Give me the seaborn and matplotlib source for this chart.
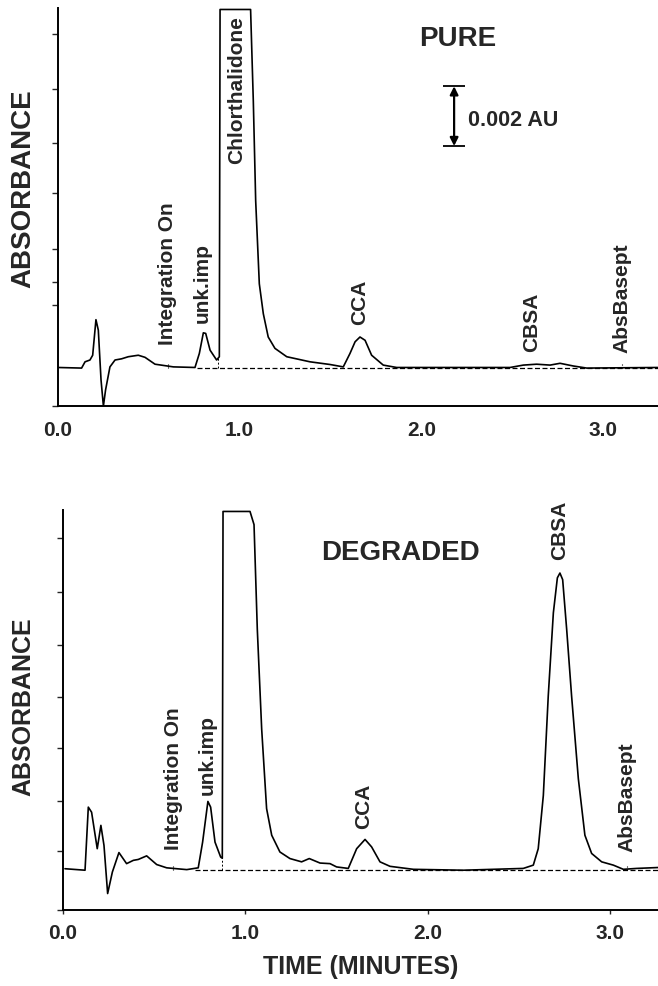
import matplotlib
matplotlib.use('Agg')
import matplotlib.pyplot as plt
import seaborn as sns

# chromatogram traces: time in minutes, absorbance in mAU above the integration baseline
pure_time = [0.0, 0.13, 0.149, 0.176, 0.191, 0.209, 0.222, 0.237, 0.25, 0.262, 0.286, 0.314,
             0.35, 0.387, 0.442, 0.479, 0.534, 0.635, 0.754, 0.778, 0.8, 0.813, 0.837, 0.873,
             0.888, 0.892, 1.06, 1.075, 1.088, 1.108, 1.13, 1.157, 1.194, 1.259, 1.387, 1.497,
             1.57, 1.607, 1.635, 1.662, 1.69, 1.726, 1.79, 1.864, 2.488, 2.561, 2.634, 2.708,
             2.763, 2.836, 2.91, 3.30]
pure_abs = [0.02, 0.0, 0.21, 0.27, 0.43, 1.62, 1.27, -0.4, -1.27, -0.73, 0.04, 0.27,
            0.31, 0.38, 0.43, 0.36, 0.13, 0.04, 0.02, 0.49, 1.18, 1.16, 0.6, 0.27,
            0.38, 12.0, 12.0, 8.93, 5.6, 2.82, 1.82, 1.04, 0.66, 0.38, 0.21, 0.12,
            0.04, 0.49, 0.88, 1.04, 0.93, 0.43, 0.1, 0.02, 0.02, 0.1, 0.13, 0.1,
            0.16, 0.07, 0.0, 0.02]

degraded_time = [0.011, 0.121, 0.139, 0.157, 0.188, 0.208, 0.225, 0.245, 0.271, 0.307, 0.349,
                 0.386, 0.413, 0.459, 0.514, 0.569, 0.679, 0.742, 0.766, 0.795, 0.81, 0.834,
                 0.865, 0.874, 0.878, 1.026, 1.048, 1.066, 1.09, 1.117, 1.145, 1.19, 1.245,
                 1.309, 1.351, 1.41, 1.465, 1.501, 1.565, 1.611, 1.657, 1.693, 1.739, 1.794,
                 1.922, 2.196, 2.525, 2.58, 2.607, 2.635, 2.662, 2.69, 2.712, 2.726, 2.741,
                 2.763, 2.79, 2.827, 2.863, 2.9, 2.955, 3.019, 3.074, 3.147, 3.264]
degraded_abs = [0.05, 0.0, 2.11, 1.94, 0.72, 1.5, 0.83, -0.78, -0.06, 0.59, 0.22,
                0.33, 0.36, 0.48, 0.19, 0.08, 0.02, 0.08, 0.94, 2.3, 2.11, 0.94,
                0.44, 0.4, 12.0, 12.0, 11.56, 8.06, 4.72, 2.06, 1.17, 0.61, 0.39,
                0.28, 0.39, 0.24, 0.22, 0.11, 0.06, 0.72, 1.03, 0.78, 0.28, 0.13,
                0.03, 0.0, 0.06, 0.17, 0.72, 2.5, 5.83, 8.61, 9.78, 9.94, 9.72,
                8.06, 5.83, 3.06, 1.17, 0.56, 0.28, 0.17, 0.03, 0.06, 0.09]

# integration baseline (start, end) and drop line between unk.imp and chlorthalidone
pure_baseline = [0.764, 3.30]
degraded_baseline = [0.724, 3.264]
pure_drop = (0.878, 0.33)
degraded_drop = (0.872, 0.4)

pure_labels = ['Integration On', 'unk.imp', 'Chlorthalidone', 'CCA', 'CBSA', 'AbsBasept']
degraded_labels = ['Integration On', 'unk.imp', 'CCA', 'CBSA', 'AbsBasept']

x_ticks = [0, 1, 2, 3]
x_ticklabels = ['0.0', '1.0', '2.0', '3.0']

# label anchors (time, height) for the rotated peak names
pure_label_pos = [(0.605, 0.77), (0.793, 1.5), (0.985, 6.83), (1.662, 1.43), (2.609, 0.53), (3.104, 0.5)]
degraded_label_pos = [(0.605, 0.67), (0.792, 2.5), (1.647, 1.39), (2.726, 10.39), (3.092, 0.61)]

sns.set_style('ticks')
plt.rcParams['font.family'] = ['Liberation Sans', 'DejaVu Sans']
plt.rcParams['font.weight'] = 'bold'

fig = plt.figure(figsize=(6.58, 9.86), dpi=100)
ax_top = fig.add_axes([0.0881, 0.5882, 0.9119, 0.4037])
ax_bot = fig.add_axes([0.0957, 0.0771, 0.9043, 0.4057])


def draw_panel(ax, time, absorb, baseline, drop, labels, label_pos, xmax, ylim, yticks):
    sns.lineplot(x=time, y=absorb, ax=ax, color='black', linewidth=1.2,
                 estimator=None, sort=False)
    ax.hlines(0, baseline[0], baseline[1], colors='black', linestyles=(0, (4, 2)), linewidth=0.9)
    ax.vlines(drop[0], 0, drop[1], colors='black', linestyles=(0, (2, 2)), linewidth=0.7)
    # small event markers under "Integration On" and "AbsBasept"
    ax.vlines([label_pos[0][0], label_pos[-1][0]], 0, 0.15, colors='black', linestyles=':', linewidth=0.8)
    for name, (t, h) in zip(labels, label_pos):
        ax.text(t, h, name, rotation=90, ha='center', va='bottom', fontsize=15, fontweight='bold')
    ax.set_xlim(0, xmax)
    ax.set_ylim(*ylim)
    ax.set_yticks(yticks)
    ax.set_xticks(x_ticks)
    ax.set_xticklabels(x_ticklabels, fontsize=15, fontweight='bold')
    ax.tick_params(axis='y', direction='out', length=4, width=1, labelleft=False)
    sns.despine(ax=ax)
    for side in ['left', 'bottom']:
        ax.spines[side].set_linewidth(1.4)
        ax.spines[side].set_color('black')
    ax.set_facecolor('white')


draw_panel(ax_top, pure_time, pure_abs, pure_baseline, pure_drop, pure_labels, pure_label_pos,
           3.302, (-1.27, 12.05), [11.17, 9.33, 7.53, 5.87, 4.0, 2.87, 2.1, -1.27])
draw_panel(ax_bot, degraded_time, degraded_abs, degraded_baseline, degraded_drop, degraded_labels,
           degraded_label_pos, 3.264, (-1.33, 12.05), [11.1, 9.3, 7.53, 5.8, 4.1, 2.33, 0.63, -1.33])

ax_top.tick_params(axis='x', length=0, pad=11)
ax_bot.tick_params(axis='x', direction='out', length=3, width=1, pad=7)

ax_top.text(2.201, 11.0, 'PURE', ha='center', va='center', fontsize=20, fontweight='bold')
ax_bot.text(1.849, 10.61, 'DEGRADED', ha='center', va='center', fontsize=20, fontweight='bold')

# 0.002 AU scale bar
ax_top.hlines([7.43, 9.43], 2.12, 2.24, colors='black', linewidth=1.3)
ax_top.annotate('', xy=(2.18, 9.43), xytext=(2.18, 7.43),
                arrowprops=dict(arrowstyle='<|-|>', color='black', lw=1.6,
                                shrinkA=0, shrinkB=0, mutation_scale=12))
ax_top.text(2.256, 8.27, '0.002 AU', ha='left', va='center', fontsize=15.5, fontweight='bold')

ax_top.set_xlabel('')
ax_top.set_ylabel('ABSORBANCE', fontsize=20, fontweight='bold', va='center')
ax_top.yaxis.set_label_coords(-0.058, 0.545)
ax_bot.set_ylabel('ABSORBANCE', fontsize=18, fontweight='bold', va='center')
ax_bot.yaxis.set_label_coords(-0.067, 0.507)
ax_bot.set_xlabel('TIME (MINUTES)', fontsize=18, fontweight='bold', labelpad=9)

fig.savefig('out.png', dpi=100, facecolor='white')
